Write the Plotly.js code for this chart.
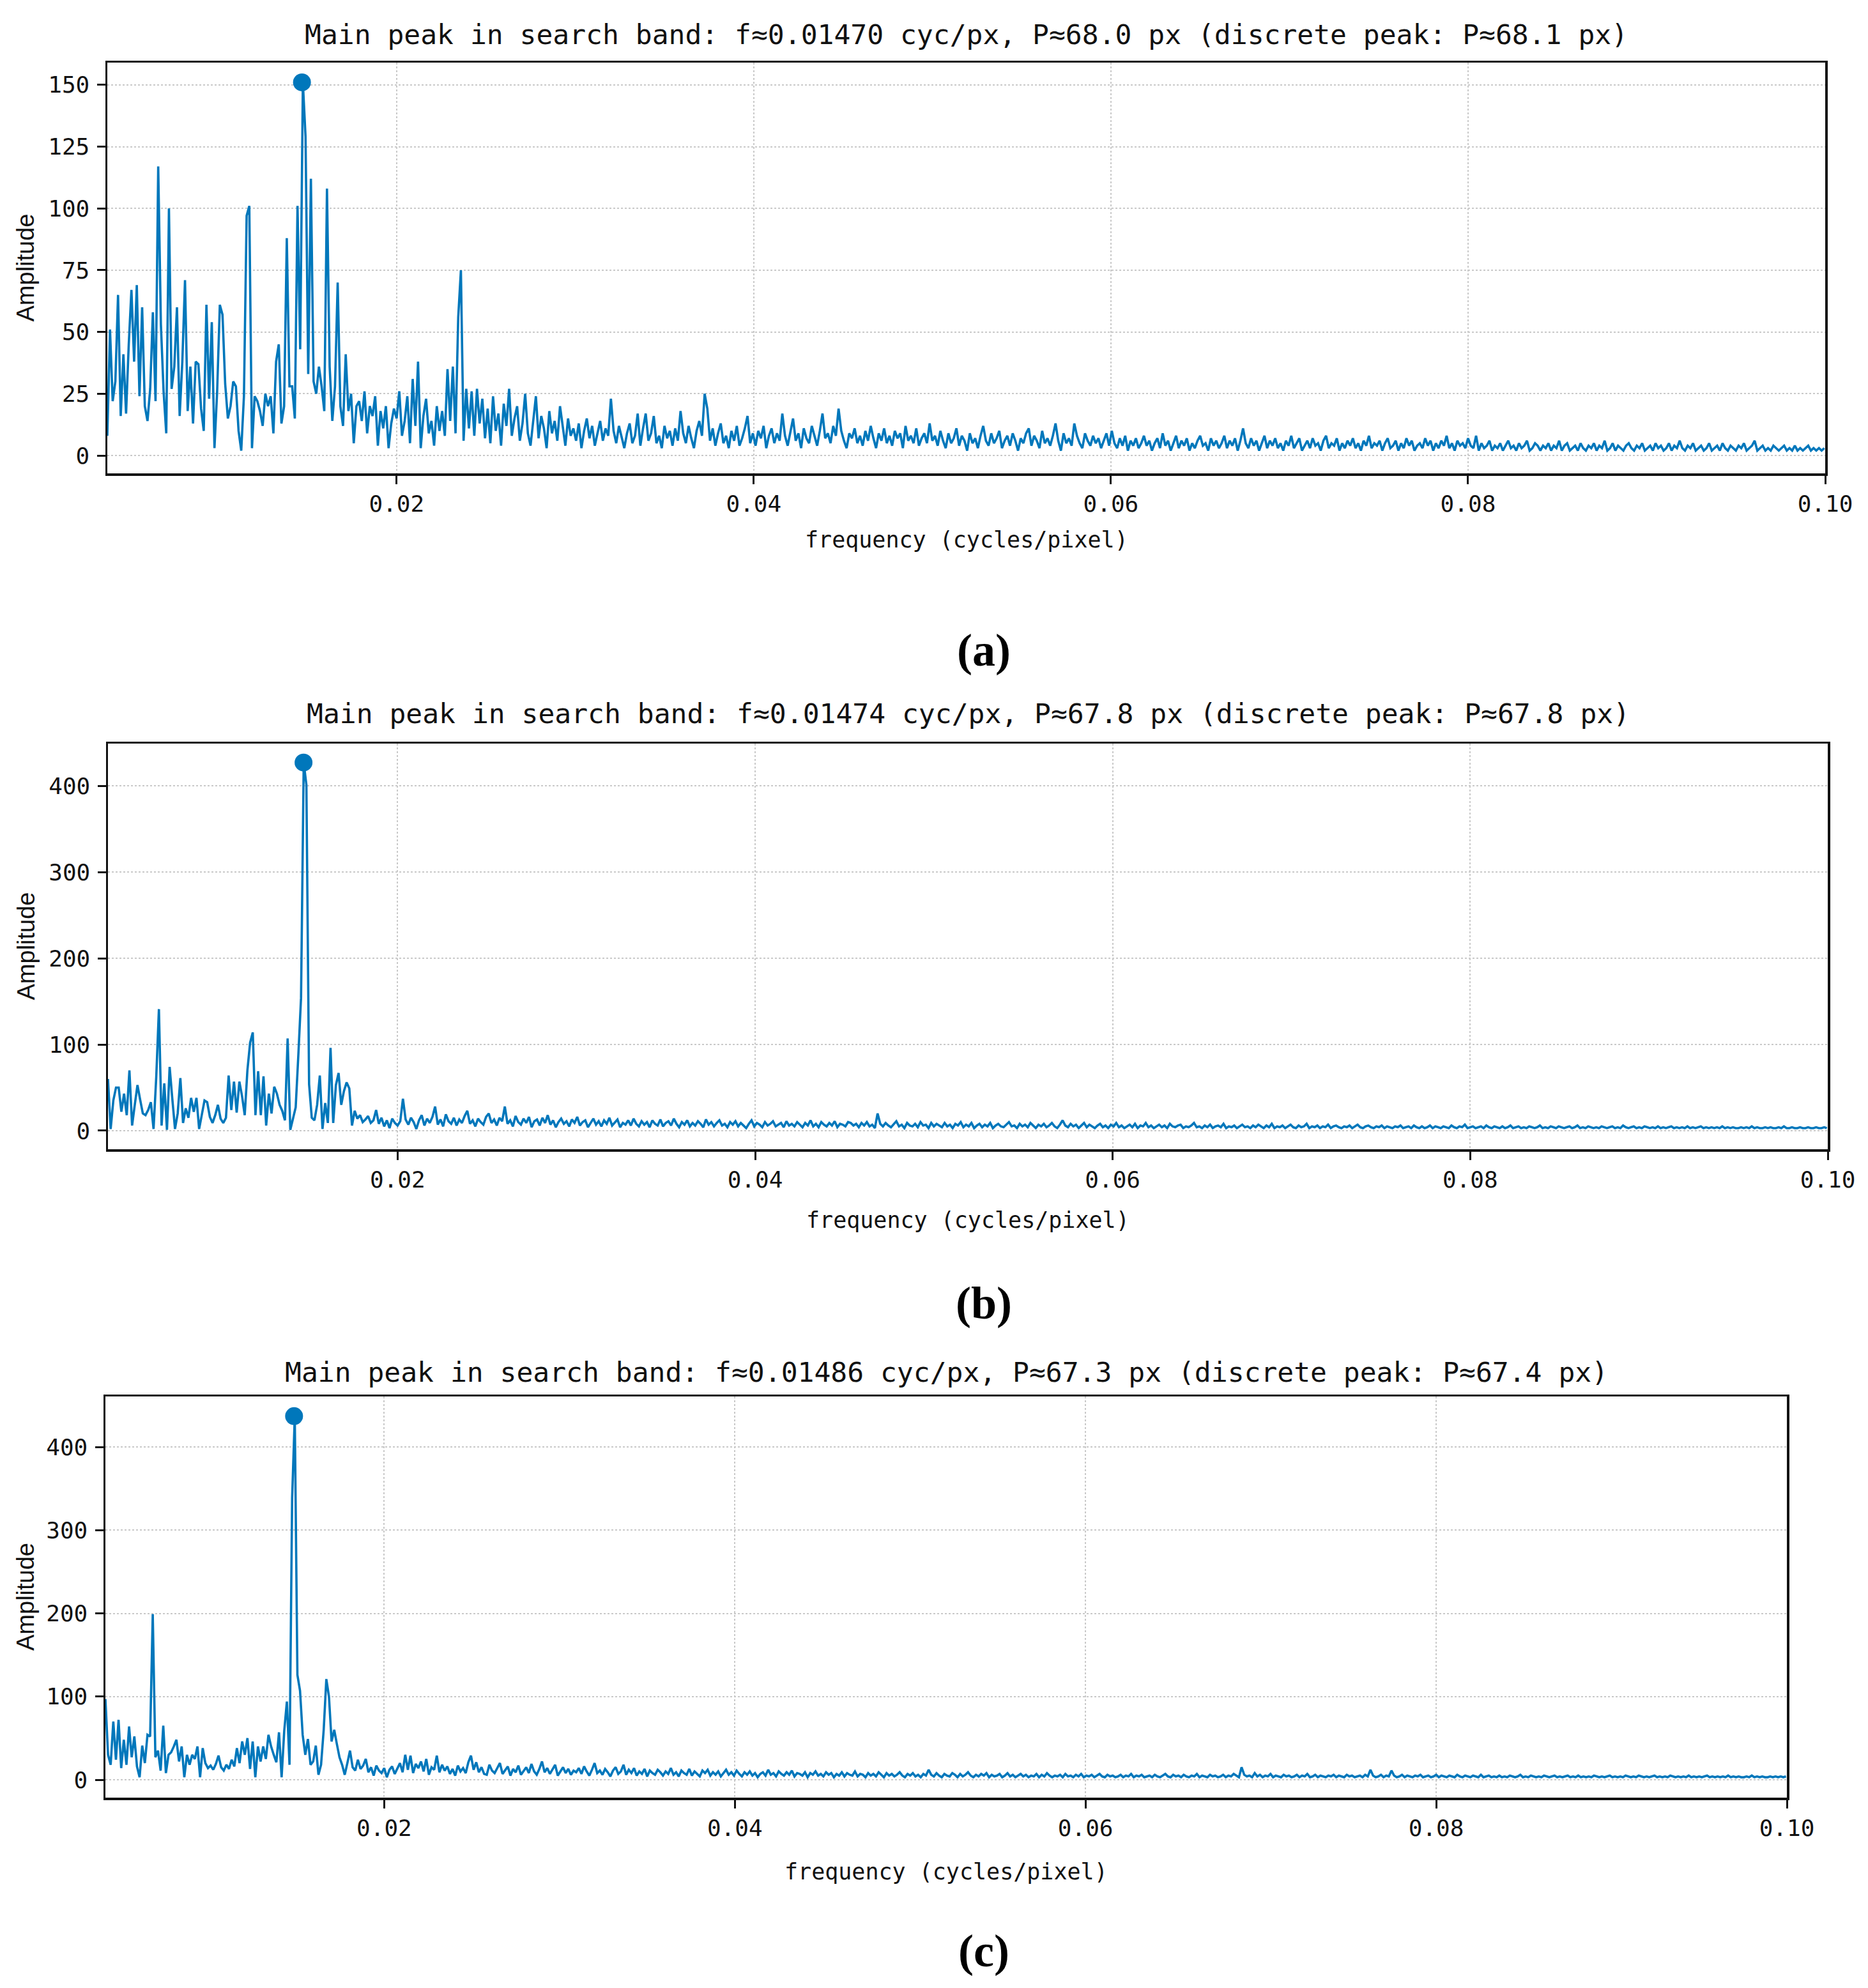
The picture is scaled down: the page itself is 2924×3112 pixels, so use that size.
<!DOCTYPE html>
<html>
<head>
<meta charset="utf-8">
<script src="https://cdn.plot.ly/plotly-3.0.1.min.js"></script>
<style>html,body{margin:0;padding:0;background:#fff;}#chart{width:2924px;height:3112px;}</style>
</head>
<body>
<div id="chart"></div>
<script>
// ---- frequency grids (FFT bins): start and bin width ----
const FREQ_START_A = 0.0038;
const FREQ_START_B = 0.0038;
const FREQ_START_C = 0.0041;
const FREQ_STEP = 0.00015;

// ---- panel (a) amplitudes ----
const AMP_A = [
8,51,22,30,65,16,41,17,45,67,
38,69,24,60,20,14,27,58,22,117,
53,26,9,100,27,36,60,16,38,71,
18,36,13,38,37,19,10,61,23,54,
3,26,61,57,29,15,20,30,28,10,
2,24,97,101,3,24,22,18,12,25,
20,24,9,38,45,13,20,88,28,28,
15,101,43,151,129,33,112,30,25,36,
28,18,108,36,14,28,70,20,12,41,
18,25,5,20,22,14,26,9,20,16,
24,4,18,11,20,3,13,19,15,26,
8,14,24,5,31,12,38,3,16,23,
9,14,4,20,10,18,8,35,14,36,
9,56,75,6,27,11,26,8,27,13,
23,7,19,5,24,10,17,4,21,12,
27,8,15,20,6,13,25,9,4,14,
24,7,16,11,3,18,9,14,6,20,
12,4,15,8,11,6,13,3,10,15,
7,12,4,9,14,6,11,8,23,10,
5,12,7,3,9,13,5,8,17,4,
11,17,6,9,16,5,8,3,12,7,
10,4,11,6,18,9,5,12,7,3,
10,14,8,25,19,6,11,4,9,13,
5,8,3,10,6,12,4,7,11,16,
5,9,4,10,7,12,3,8,11,5,
9,6,17,8,4,10,15,6,9,3,
11,7,5,12,8,4,10,17,7,9,
5,12,8,19,10,6,3,9,7,11,
5,8,4,10,6,12,7,3,9,6,
11,5,8,4,10,7,9,3,12,6,
8,5,11,4,7,9,5,13,6,8,
4,10,6,3,9,5,7,11,4,8,
6,2,9,5,7,3,8,12,6,4,
9,5,7,10,3,6,8,4,9,6,
2,7,5,9,11,4,8,6,3,10,
5,7,4,8,13,6,2,9,5,7,
4,13,8,5,3,9,6,4,8,5,
7,3,6,9,4,10,5,3,7,4,
8,2,6,4,7,3,5,8,4,6,
2,5,7,3,9,4,6,2,5,8,
3,6,4,7,2,5,3,6,8,4,
5,2,7,4,6,3,5,8,3,6,
4,7,2,6,11,5,3,7,4,6,
2,5,8,3,6,4,7,3,5,2,
6,4,8,3,5,7,2,4,6,3,
7,4,5,2,6,8,3,5,4,7,
2,5,3,6,4,7,3,5,2,6,
4,8,3,5,4,6,2,5,7,3,
4,6,2,5,3,7,4,6,2,4,
5,3,7,4,6,2,5,3,6,4,
8,3,5,2,6,4,5,3,7,4,
3,8,2,5,3,4,6,2,4,3,
5,2,4,6,3,4,2,5,3,4,
6,2,3,5,4,2,4,3,5,2,
4,3,6,2,4,5,2,3,4,2,
5,3,2,4,3,5,2,4,3,6,
2,3,5,2,4,3,2,4,5,3,
2,4,3,5,2,3,4,2,5,3,
4,2,3,5,2,4,3,6,3,2,
4,3,5,2,3,4,2,3,5,2,
3,4,2,5,3,2,4,3,2,4,
3,5,2,3,4,6,2,3,4,2,
3,2,4,3,2,3,4,2,3,2,
4,2,3,2,3,4,2,3,2,3,
2,3
];

// ---- panel (b) amplitudes ----
const AMP_B = [
60,2,35,50,50,22,43,18,70,6,
30,53,36,20,18,24,33,2,62,141,
6,55,1,74,37,2,20,61,9,26,
15,38,22,38,2,20,35,33,16,9,
18,30,14,9,15,64,24,57,21,57,
40,18,70,102,114,18,69,18,63,6,
43,20,51,43,30,23,12,107,1,14,
27,88,154,427,401,54,15,12,30,64,
2,32,9,96,9,53,67,30,46,56,
49,6,23,14,18,10,13,17,9,12,
24,8,15,5,12,3,14,9,6,11,
37,13,7,15,10,2,12,18,6,14,
9,16,28,7,13,5,19,11,8,15,
6,13,9,17,23,8,12,5,14,10,
7,16,20,9,13,6,15,11,28,8,
12,5,17,10,7,14,9,16,4,11,
13,6,15,9,18,7,12,4,10,14,
8,11,5,13,9,16,6,10,12,4,
9,14,7,11,5,12,8,15,6,10,
13,4,9,7,12,6,14,8,5,11,
7,10,4,12,8,6,13,5,9,11,
6,14,8,4,10,7,12,5,9,6,
11,8,4,13,7,10,5,9,12,6,
8,4,10,7,11,5,9,6,3,8,
12,5,9,7,4,10,6,8,11,5,
7,9,4,11,6,8,5,10,7,4,
9,6,12,5,8,4,10,7,5,9,
6,11,4,8,7,5,10,9,6,8,
4,9,6,10,5,7,3,20,8,5,
9,6,4,8,11,5,7,3,9,6,
5,8,4,10,6,7,3,9,5,8,
6,4,9,5,7,3,8,6,10,4,
7,5,9,3,6,8,4,7,5,9,
3,6,8,5,4,7,10,5,6,3,
8,5,7,4,9,6,3,7,5,8,
4,6,9,5,3,7,12,6,4,8,
5,7,3,6,9,4,7,5,3,6,
8,4,6,3,7,5,9,4,6,3,
5,7,4,8,3,6,5,9,4,6,
3,5,7,4,6,3,8,5,4,6,
7,3,5,4,6,9,4,5,3,6,
4,7,3,5,6,4,8,3,5,4,
6,3,5,7,4,5,3,6,4,7,
5,3,6,4,8,3,5,4,6,3,
5,7,4,3,6,4,5,8,3,5,
4,6,3,5,4,7,3,5,6,4,
3,5,4,6,3,5,7,4,3,5,
6,4,3,5,4,6,3,5,4,3,
5,4,6,3,4,5,3,6,4,3,
5,3,4,6,3,5,4,3,5,4,
3,6,4,3,5,4,7,3,4,5,
3,4,5,3,6,4,3,5,4,3,
5,3,4,6,3,4,5,3,4,3,
5,4,3,4,6,3,4,3,5,4,
3,5,4,3,4,5,3,4,6,3,
4,3,5,4,3,4,3,5,4,3,
4,5,3,4,3,6,4,3,4,5,
3,4,3,5,4,3,4,3,5,3,
4,3,4,5,3,4,3,4,3,5,
3,4,3,4,5,3,4,3,4,3,
4,3,5,3,4,3,4,3,3,4,
3,4,3,5,3,4,3,3,4,3,
4,3,3,4,3,5,3,3,4,3,
3,4,3,3,4,3,3,4,3,3,
4,3
];

// ---- panel (c) amplitudes ----
const AMP_C = [
97,30,18,70,24,72,14,48,18,64,
27,52,16,3,41,20,54,52,199,27,
35,11,65,8,30,33,40,48,22,40,
3,30,18,30,25,40,3,38,20,14,
17,12,19,29,15,11,18,13,24,16,
38,20,46,30,50,13,46,3,40,22,
40,25,54,40,30,21,57,3,59,94,
18,339,437,126,107,54,30,49,18,22,
41,6,18,60,121,100,46,60,43,27,
18,6,20,35,15,11,24,13,17,25,
9,15,5,17,11,8,14,3,12,16,
7,13,20,9,30,12,29,8,19,14,
22,10,25,6,15,12,29,9,18,11,
16,7,13,5,17,10,14,8,21,29,
12,21,9,15,7,6,18,11,8,14,
20,7,12,16,5,13,9,17,6,11,
15,8,19,10,6,13,22,9,14,7,
12,18,5,10,15,8,13,6,11,9,
14,7,16,10,5,12,20,8,11,6,
13,9,4,11,15,7,10,18,6,12,
8,14,5,10,7,13,4,11,8,6,
12,9,5,10,7,14,6,9,4,11,
8,6,13,5,10,7,4,11,8,12,
5,9,6,10,4,8,12,6,9,5,
11,7,4,9,6,10,5,8,3,7,
9,5,12,6,8,4,10,7,5,9,
6,11,4,8,7,5,9,3,8,6,
10,5,7,4,9,6,8,3,7,5,
9,4,8,6,5,10,4,7,6,3,
8,5,7,4,9,6,3,8,5,7,
4,6,9,5,3,7,5,8,4,6,
3,7,5,12,6,4,8,5,3,7,
5,4,8,6,3,7,4,6,9,5,
3,6,4,7,5,8,3,6,4,5,
7,3,5,8,4,6,3,5,7,4,
6,3,5,4,7,3,6,4,8,5,
3,5,4,6,3,7,4,5,3,6,
4,7,3,5,4,6,3,5,7,4,
3,6,4,5,3,4,6,3,5,4,
7,3,5,4,6,3,4,5,3,6,
4,3,5,7,4,3,6,4,5,3,
6,4,3,5,4,7,3,5,4,3,
6,4,5,3,4,6,3,5,4,7,
5,3,15,6,4,5,3,8,4,6,
3,5,4,7,3,5,4,3,6,4,
5,3,4,6,3,5,4,7,3,4,
6,3,5,4,3,5,4,6,3,5,
4,3,6,4,5,3,4,5,3,6,
4,12,5,3,4,6,3,5,4,11,
5,3,4,6,3,5,4,3,5,4,
6,3,4,5,3,4,6,3,5,4,
3,5,4,3,6,4,3,5,4,3,
5,4,3,6,3,4,5,3,4,3,
5,3,4,3,5,4,3,4,6,3,
4,3,5,4,3,4,3,5,4,3,
4,5,3,4,3,4,5,3,4,3,
5,3,4,3,4,3,5,4,3,4,
3,4,5,3,4,3,4,3,5,4,
3,4,3,5,4,3,4,3,4,5,
3,4,3,4,3,5,4,3,4,3,
4,3,5,3,4,3,4,3,4,5,
3,4,3,4,3,4,3,5,3,4,
3,4,3,3,4,3,5,3,4,3,
4,3,3,4,3,4,3,4,3,4
];

// ---- detected main peaks ----
const PEAK_FREQ = [0.01470, 0.01474, 0.01486];
const PEAK_AMP = [151, 427, 437];

// ---- text ----
const TITLES = [
  "Main peak in search band: f≈0.01470 cyc/px, P≈68.0 px (discrete peak: P≈68.1 px)",
  "Main peak in search band: f≈0.01474 cyc/px, P≈67.8 px (discrete peak: P≈67.8 px)",
  "Main peak in search band: f≈0.01486 cyc/px, P≈67.3 px (discrete peak: P≈67.4 px)"
];
const PANEL_LABELS = ["(a)", "(b)", "(c)"];
const X_TITLE = "frequency (cycles/pixel)";
const Y_TITLE = "Amplitude";
const X_TICKS = [0.02, 0.04, 0.06, 0.08, 0.10];
const X_TICK_TEXT = ["0.02", "0.04", "0.06", "0.08", "0.10"];
const Y_TICKS_A = [0, 25, 50, 75, 100, 125, 150];
const Y_TICKS_BC = [0, 100, 200, 300, 400];

// ---- layout geometry (pixels of the 2924x3112 canvas) ----
const W = 2924, H = 3112;
const BLUE = '#0077BB';
const MONO = 'DejaVu Sans Mono';

const panels = [
  {amp: AMP_A, start: FREQ_START_A, xr: [0.0038, 0.1], yr: [-7.2, 159.0], yt: Y_TICKS_A,
   px: [168, 2857], py: [98, 741], titleY: 54, xTitleY: 845, labelY: 1018},
  {amp: AMP_B, start: FREQ_START_B, xr: [0.0038, 0.1], yr: [-21.5, 449], yt: Y_TICKS_BC,
   px: [169, 2861], py: [1164, 1799], titleY: 1117, xTitleY: 1910, labelY: 2040},
  {amp: AMP_C, start: FREQ_START_C, xr: [0.0041, 0.1], yr: [-21.5, 460.7], yt: Y_TICKS_BC,
   px: [165, 2797], py: [2186, 2814], titleY: 2148, xTitleY: 2930, labelY: 3054}
];

const traces = [];
const layout = {
  width: W, height: H,
  margin: {l: 0, r: 0, t: 0, b: 0},
  paper_bgcolor: '#ffffff', plot_bgcolor: '#ffffff',
  showlegend: false,
  annotations: []
};

panels.forEach((p, i) => {
  const sfx = i === 0 ? '' : String(i + 1);
  const xa = 'x' + sfx, ya = 'y' + sfx;
  const freq = p.amp.map((_, k) => p.start + k * FREQ_STEP);
  traces.push({
    type: 'scatter', mode: 'lines', x: freq, y: p.amp,
    xaxis: xa, yaxis: ya,
    line: {color: BLUE, width: 3.6}, hoverinfo: 'skip'
  });
  traces.push({
    type: 'scatter', mode: 'markers', x: [PEAK_FREQ[i]], y: [PEAK_AMP[i]],
    xaxis: xa, yaxis: ya,
    marker: {color: BLUE, size: 28}, hoverinfo: 'skip'
  });
  const common = {
    showline: true, mirror: true, linecolor: '#111111', linewidth: 3.5,
    ticks: 'outside', ticklen: 13, tickwidth: 3, tickcolor: '#111111',
    showgrid: true, gridcolor: '#c9c9c9', gridwidth: 2, griddash: 'dot',
    zeroline: false, fixedrange: true,
    tickfont: {family: MONO, size: 36, color: '#111111'}
  };
  layout['xaxis' + sfx] = Object.assign({}, common, {
    domain: [p.px[0] / W, p.px[1] / W],
    anchor: ya, range: p.xr,
    tickmode: 'array', tickvals: X_TICKS, ticktext: X_TICK_TEXT,
    ticklabelstandoff: 0
  });
  layout['yaxis' + sfx] = Object.assign({}, common, {
    domain: [1 - p.py[1] / H, 1 - p.py[0] / H],
    anchor: xa, range: p.yr,
    tickmode: 'array', tickvals: p.yt, ticktext: p.yt.map(String),
    ticklabelstandoff: 4
  });
  const cx = (p.px[0] + p.px[1]) / 2;
  layout.annotations.push({
    xref: 'paper', yref: 'paper', x: cx / W, y: 1 - p.titleY / H,
    xanchor: 'center', yanchor: 'middle', showarrow: false,
    text: TITLES[i], font: {family: MONO, size: 43, color: '#111111'}
  });
  layout.annotations.push({
    xref: 'paper', yref: 'paper', x: cx / W, y: 1 - p.xTitleY / H,
    xanchor: 'center', yanchor: 'middle', showarrow: false,
    text: X_TITLE, font: {family: MONO, size: 35, color: '#111111'}
  });
  layout.annotations.push({
    xref: 'paper', yref: 'paper', x: 40 / W, y: 1 - ((p.py[0] + p.py[1]) / 2) / H,
    xanchor: 'center', yanchor: 'middle', showarrow: false, textangle: -90,
    text: Y_TITLE, font: {family: 'Liberation Sans', size: 38, color: '#111111'}
  });
  layout.annotations.push({
    xref: 'paper', yref: 'paper', x: 1540 / W, y: 1 - p.labelY / H,
    xanchor: 'center', yanchor: 'middle', showarrow: false,
    text: '<b>' + PANEL_LABELS[i] + '</b>',
    font: {family: 'Liberation Serif', size: 72, color: '#000000'}
  });
});

Plotly.newPlot('chart', traces, layout, {staticPlot: true, displayModeBar: false});
</script>
</body>
</html>
